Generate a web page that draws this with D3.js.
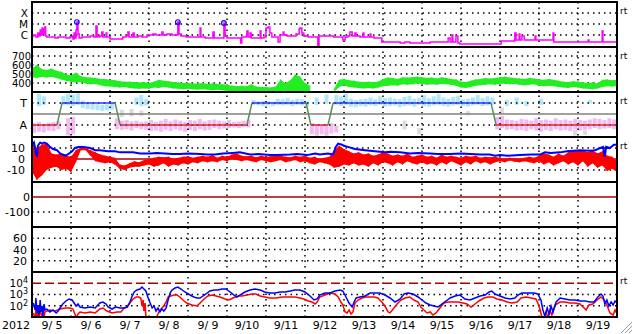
<!DOCTYPE html>
<html>
<head>
<meta charset="utf-8">
<script src="https://cdn.jsdelivr.net/npm/d3@7"></script>
<style>
body { margin:0; background:#fff; }
svg { display:block; font-family:"DejaVu Sans", sans-serif; }
</style>
</head>
<body>
<div id="chart"></div>
<script>
// space weather summary, 2012 9/5 - 9/19 (times are days after 9/5 00:00)

var dayLabels = ['9/ 5','9/ 6','9/ 7','9/ 8','9/ 9','9/10','9/11','9/12','9/13','9/14','9/15','9/16','9/17','9/18','9/19'];

// x-ray flux W/m2
var xray = [[0,8.1e-7],[.05,1e-6],[.10,6.6e-7],[.15,1.5e-6],[.18,8.1e-7],[.21,2.8e-6],[.23,1e-6],[.26,4.3e-6],[.28,1.2e-6],[.31,3.5e-6],[.33,5.3e-6],[.35,8.1e-7],[.38,6.6e-7],[.46,6.6e-7],[.59,5.3e-7],[.67,6.6e-7],[.77,6.6e-7],[.87,5.3e-7],[.97,6.6e-7],[1.03,8.1e-7],[1.05,4.3e-7],[1.08,1.5e-6],[1.10,5.3e-7],[1.13,2.8e-6],[1.15,1.5e-5],[1.18,1.2e-6],[1.21,5.3e-7],[1.28,6.6e-7],[1.38,6.6e-7],[1.49,8.1e-7],[1.59,6.6e-7],[1.64,6.6e-6],[1.67,6.6e-7],[1.74,8.1e-7],[1.79,1.9e-6],[1.82,6.6e-7],[1.90,1.5e-6],[1.92,6.6e-7],[2.00,4.3e-7],[2.13,4.3e-7],[2.26,4.3e-7],[2.33,6.6e-7],[2.41,8.1e-7],[2.46,1.9e-6],[2.49,6.6e-7],[2.59,1.5e-6],[2.62,6.6e-7],[2.72,8.1e-7],[2.82,6.6e-7],[2.95,1e-6],[3.03,1e-6],[3.10,1.2e-6],[3.18,1e-6],[3.28,1e-6],[3.33,1.9e-6],[3.36,1e-6],[3.46,1.2e-6],[3.59,1e-6],[3.69,1e-6],[3.74,1.5e-5],[3.77,1.2e-6],[3.82,8.1e-7],[3.95,6.6e-7],[4.10,6.6e-7],[4.26,6.6e-7],[4.31,4.3e-6],[4.33,6.6e-7],[4.44,5.3e-7],[4.56,5.3e-7],[4.64,1.9e-6],[4.67,5.3e-7],[4.82,5.3e-7],[4.90,5.3e-7],[4.92,1.25e-5],[4.95,8.1e-7],[5.00,5.3e-7],[5.15,5.3e-7],[5.33,5.3e-7],[5.35,1.9e-7],[5.38,6.6e-7],[5.49,8.1e-7],[5.51,2.3e-6],[5.54,6.6e-7],[5.59,1.5e-6],[5.62,5.3e-7],[5.74,5.3e-7],[5.85,2.3e-6],[5.87,5.3e-7],[5.95,6.6e-7],[6.00,4.3e-6],[6.05,5.3e-6],[6.10,1.5e-6],[6.15,6.6e-7],[6.26,6.6e-7],[6.31,2.3e-7],[6.36,1e-6],[6.44,1.9e-6],[6.46,1e-6],[6.54,8.1e-7],[6.67,8.1e-7],[6.77,1.2e-6],[6.85,3.5e-6],[6.87,4.3e-6],[6.92,1.5e-6],[6.97,8.1e-7],[7.08,6.6e-7],[7.21,6.6e-7],[7.33,8.5e-8],[7.36,8.1e-7],[7.49,8.1e-7],[7.64,8.1e-7],[7.74,6.6e-7],[7.90,6.6e-7],[7.97,3.5e-7],[8.03,6.6e-7],[8.10,8.1e-7],[8.15,1.9e-6],[8.21,8.1e-7],[8.28,1.5e-6],[8.31,8.1e-7],[8.41,6.6e-7],[8.49,1.5e-6],[8.51,6.6e-7],[8.62,6.6e-7],[8.67,1.2e-6],[8.69,6.6e-7],[8.77,5.3e-7],[8.92,5.3e-7],[8.97,2.3e-7],[9.18,2.3e-7],[9.44,1.9e-7],[9.56,2.3e-7],[9.69,1.9e-7],[9.95,1.9e-7],[10.21,2.3e-7],[10.46,2.3e-7],[10.59,2.3e-7],[10.67,5.3e-7],[10.72,2.3e-7],[10.77,1e-6],[10.79,2.3e-7],[10.87,8.1e-7],[10.92,1.9e-7],[10.97,1.5e-7],[11.23,1.5e-7],[11.49,1.5e-7],[11.74,1.5e-7],[12.00,1.5e-7],[12.03,2.8e-7],[12.13,2.8e-7],[12.31,2.8e-7],[12.38,1.5e-6],[12.41,3.5e-7],[12.49,1.2e-6],[12.51,3.5e-7],[12.56,8.1e-7],[12.62,3.5e-7],[12.77,3.5e-7],[12.90,8.1e-7],[12.92,3.5e-7],[13.15,3.5e-7],[13.33,3.5e-7],[13.36,1.5e-6],[13.38,2.3e-7],[13.67,2.3e-7],[13.92,2.3e-7],[14.26,3.5e-7],[14.28,2.3e-7],[14.44,2.3e-7],[14.56,2.3e-7],[14.62,2.3e-6],[14.64,2.3e-7],[14.82,2.3e-7],[15.00,2.3e-7]];
var flarePeaks = [[1.15,1.5e-5],[3.74,1.5e-5],[4.92,1.25e-5]];

// solar wind speed km/s, [t, min, max]
var speedBins = [[0,465,560],[0.125,455,600],[0.25,470,555],[0.375,460,545],[0.5,470,560],[0.625,455,535],[0.75,440,525],[0.875,425,495],
[1,415,485],[1.125,405,515],[1.25,410,475],[1.375,395,465],[1.5,385,460],[1.625,390,455],[1.75,375,445],[1.875,365,445],
[2,360,435],[2.125,355,430],[2.25,350,420],[2.375,355,415],[2.5,345,415],[2.625,340,410],[2.75,335,405],[2.875,340,410],
[3,335,400],[3.125,350,415],[3.25,345,435],[3.375,355,425],[3.5,350,420],[3.625,340,410],[3.75,335,405],[3.875,330,400],
[4,335,400],[4.125,330,395],[4.25,325,395],[4.375,330,400],[4.5,325,390],[4.625,320,395],[4.75,325,390],[4.875,320,385],
[5,312,380],[5.125,308,370],[5.25,305,365],[5.375,308,370],[5.5,305,365],[5.625,308,385],[5.75,305,360],[5.875,302,355],
[6,300,355],[6.125,300,350],[6.25,300,360],[6.375,300,440],[6.5,300,395],[6.625,300,430],[6.75,300,495],[6.875,300,470],
[7,300,400],[7.125,300,370],[7.25,null,null],[7.5,null,null],[7.75,300,340],[7.875,355,435],
[8,375,445],[8.125,355,430],[8.25,350,425],[8.375,345,415],[8.5,340,410],[8.625,345,415],[8.75,340,410],[8.875,350,415],
[9,365,445],[9.125,370,460],[9.25,375,455],[9.375,370,445],[9.5,385,465],[9.625,380,460],[9.75,385,465],[9.875,395,470],
[10,390,465],[10.125,380,455],[10.25,385,460],[10.375,380,450],[10.5,390,465],[10.625,385,455],[10.75,380,445],[10.875,370,440],
[11,350,415],[11.125,345,410],[11.25,355,425],[11.375,370,440],[11.5,375,445],[11.625,380,455],[11.75,385,450],[11.875,380,455],
[12,390,465],[12.125,395,470],[12.25,385,460],[12.375,390,455],[12.5,380,450],[12.625,375,445],[12.75,380,455],[12.875,385,450],
[13,370,440],[13.125,365,435],[13.25,370,445],[13.375,365,435],[13.5,355,425],[13.625,350,415],[13.75,345,410],[13.875,355,420],
[14,350,415],[14.125,340,405],[14.25,335,400],[14.375,330,405],[14.5,340,395],[14.625,355,435],[14.75,365,440],[14.875,360,430],[15,365,435]];

// IMF sector: angle range per bin (deg)
var towardBins = [[0.125,290,390],[0.25,300,370],
[0.75,300,370],[0.875,295,390],[1.0,290,385],[1.125,300,395],[1.25,275,335],
[1.375,265,315],[1.5,260,310],[1.625,255,305],[1.75,250,300],[1.875,255,305],[2.0,260,315],
[2.625,300,360],[2.75,290,380],[2.875,295,350],
[5.625,300,340],[5.75,295,330],[5.875,290,335],[6.0,295,330],[6.125,290,325],[6.25,300,350],[6.375,295,345],[6.5,300,356],[6.625,290,340],[6.75,300,350],[6.875,295,345],[7.0,290,330],
[7.25,300,360],[7.5,310,385],
[7.75,300,380],[7.875,290,370],[8.0,300,390],[8.125,285,350],[8.25,280,340],[8.375,290,345],[8.5,285,350],[8.625,295,360],[8.75,290,345],[8.875,300,370],[9.0,285,355],[9.125,290,360],[9.25,295,350],[9.375,280,345],[9.5,290,365],[9.625,295,375],[9.75,285,350],[9.875,300,360],[10.0,290,380],[10.125,285,355],[10.25,295,370],[10.375,300,390],[10.5,290,360],[10.625,285,350],[10.75,295,365],[10.875,300,375],[11.0,290,345],[11.125,285,350],[11.25,295,360],[11.375,300,380],[11.5,290,355],[11.625,295,370],[11.75,300,360],
[12.125,290,340],[12.375,300,360],[12.625,290,330],[13.0,300,350],[14.25,310,340]];
var awayBins = [[0,70,150],[0.125,80,160],[0.25,75,140],[0.375,90,155],[0.5,85,160],[0.625,100,165],
[0.875,50,190],[1.0,60,200],
[2.125,100,190],[2.25,95,170],[2.375,100,175],[2.5,90,165],[2.625,110,170],[2.75,100,160],[2.875,95,165],
[3.0,85,175],[3.125,90,160],[3.25,80,170],[3.375,95,185],[3.5,85,165],[3.625,100,180],[3.75,90,170],[3.875,80,160],[4.0,95,175],[4.125,85,170],[4.25,100,185],[4.375,90,165],[4.5,95,175],[4.625,110,180],[4.75,100,170],[4.875,105,165],[5.0,110,175],[5.125,115,160],[5.25,110,165],[5.375,120,170],[5.5,115,180],
[7.125,60,150],[7.25,50,140],[7.375,60,130],[7.5,55,145],[7.625,65,150],[7.75,75,130],
[11.875,100,200],[12.0,110,210],[12.125,95,180],[12.25,100,175],[12.375,90,170],[12.5,95,185],[12.625,85,180],[12.75,100,170],[12.875,90,190],[13.0,80,175],[13.125,95,180],[13.25,85,170],[13.375,100,190],[13.5,90,175],[13.625,95,180],[13.75,85,170],[13.875,100,185],[14.0,90,175],[14.125,95,170],[14.25,100,180],[14.375,110,190],[14.5,100,185],[14.625,105,175],[14.75,110,190],[14.875,100,180],[15.0,115,190]];
var mixedBins = [[2.25,200,260],[2.5,205,265],[2.75,210,255],
[7.25,50,85],[7.5,45,80],
[9.5,100,170],[9.875,60,110],
[11.125,215,250],
[12.0,230,280],
[13.875,50,95],[14.125,55,90]];
// sector polarity changes
var sectorPts = [[0,'A'],[0.64,'A'],[0.77,'T'],[2.13,'T'],[2.26,'A'],[5.51,'A'],[5.64,'T'],[7.03,'T'],[7.15,'A'],[7.59,'A'],[7.72,'T'],[11.77,'T'],[11.9,'A'],[15,'A']];
var sectorAngle = {'T':315, 'A':135};

// IMF Bt (nT)
var btData = [[0,13],[.05,15],[.08,10],[.10,5],[.13,2],[.15,12],[.21,15],[.26,14],[.31,15],[.38,14],[.46,11],[.54,9],[.64,8],[.72,5],[.79,4],[.87,3],[.95,5],[1.03,7],[1.10,10],[1.18,11],[1.33,11],[1.49,10],[1.62,8],[1.74,8],[1.95,7],[2.13,7],[2.26,6],[2.59,6],[2.77,5],[3.03,5],[3.2,5.5],[3.41,5],[3.6,4.5],[3.79,4.5],[4.0,5],[4.31,4.5],[4.5,4],[4.69,4],[4.9,5],[5.15,5.5],[5.33,6],[5.59,4],[5.8,4.5],[6.10,3.5],[6.3,3.5],[6.62,4],[6.8,4.5],[7.05,3.5],[7.26,5],[7.38,4],[7.59,5],[7.72,4],[7.79,11],[7.85,14],[7.95,13],[8.0,12],[8.10,11],[8.28,9],[8.54,8],[8.79,7],[9.05,6],[9.2,6.5],[9.44,6],[9.69,5],[9.9,5.5],[10.21,5],[10.4,4.5],[10.72,4.5],[11.0,5],[11.23,4.5],[11.5,4],[11.74,4],[11.87,3],[12.00,3.5],[12.2,3],[12.51,3.5],[12.8,4],[13.03,4],[13.15,6],[13.3,5.5],[13.54,6],[13.72,7],[13.9,7.5],[14.05,8],[14.3,7.5],[14.44,8],[14.64,11],[14.69,2],[14.72,11],[14.82,10],[14.92,13],[15,13]];
// IMF Bz (nT), [t, min, max]
var bzBins = [[0,-12,14],[0.125,-19,10],[0.25,-15,13],[0.375,-10,14],[0.5,-8,5],[0.625,-7,4],[0.75,-10,5],[0.875,-9,3],
[1.0,-12,2],[1.125,-3,8],[1.25,8,10.5],[1.375,8,10],[1.5,3,8],[1.625,-2,6],[1.75,-3,4],[1.875,-4,3],
[2.0,-3,2],[2.125,-5,1],[2.25,-9,-5],[2.375,-10,-6],[2.5,-8,-4],[2.625,-7,-2],[2.75,-7,-3],[2.875,-6,-1],
[3.0,-5,0],[3.125,-7,1],[3.25,-6,2],[3.375,-4,1.5],[3.5,-7,2],[3.625,-5,0],[3.75,-6,1],[3.875,-4,2],
[4.0,-5,2.5],[4.125,-3,1],[4.25,-4,2],[4.375,-2,3],[4.5,-3,2],[4.625,-2,3.5],[4.75,-3,1],[4.875,-1,3],
[5.0,-2,2],[5.125,0,4],[5.25,-1,5],[5.375,-2,3],[5.5,-1,2.5],[5.625,-2,3],[5.75,-3,1.5],[5.875,-1,3],
[6.0,-2,2],[6.125,-3,2.5],[6.25,-2,3],[6.375,-1,3],[6.5,-3,2],[6.625,-2,1.5],[6.75,-1,3],[6.875,-3,2],
[7.0,-2,3],[7.125,-4,1],[7.25,-5,2],[7.375,-3,0],[7.5,-4,1],[7.625,-5,2],[7.75,-8,8],[7.875,-7,12],
[8.0,-5,9],[8.125,-6,7],[8.25,-4,5],[8.375,-6,6],[8.5,-5,4],[8.625,-7,5],[8.75,-4,3],[8.875,-6,4],
[9.0,-3,6],[9.125,-4,5],[9.25,-6,3],[9.375,-3,4],[9.5,-5,3],[9.625,-2,5],[9.75,-4,2],[9.875,-5,3],
[10.0,-3,4],[10.125,-5,2],[10.25,-4,3],[10.375,-6,1],[10.5,-3,4],[10.625,-5,2],[10.75,-2,3],[10.875,-4,2],
[11.0,-6,1],[11.125,-3,3],[11.25,-5,2],[11.375,-2,3],[11.5,-4,1],[11.625,-3,2],[11.75,-5,1.5],[11.875,-3,2],
[12.0,-2,1],[12.125,-3,0],[12.25,-1.5,1],[12.375,-2.5,0.5],[12.5,-3,0],[12.625,-2,1],[12.75,-3,2],[12.875,-4,1],
[13.0,-2,3],[13.125,-5,5],[13.25,-3,4],[13.375,-6,2],[13.5,-4,5],[13.625,-2,3],[13.75,-5,6],[13.875,-3,8],
[14.0,-6,7],[14.125,-2,8],[14.25,-7,6],[14.375,-4,8],[14.5,-8,5],[14.625,-6,7],[14.75,-11,3],[14.875,-9,2],[15.0,-12,-2]];

// electron flux
var elecLow = [[.03,175],[.08,42],[.10,490],[.13,23],[.15,117],[.18,15],[.21,325],[.23,28],[.26,95],[.28,12],[.31,143],[.33,42],[.38,51],[.46,28],[.54,42],[.62,23],[.67,34],[.72,63],[.79,143],[.87,265],[.95,400],[1.03,325],[1.08,175],[1.13,95],[1.18,143],[1.23,77],[1.36,63],[1.49,77],[1.62,63],[1.69,117],[1.74,175],[1.82,215],[1.90,143],[1.95,77],[2.05,51],[2.15,77],[2.26,63],[2.36,63],[2.44,77],[2.51,215],[2.56,600],[2.62,1670],[2.69,2510],[2.77,3080],[2.82,4640],[2.87,3080],[2.92,2050],[2.97,600],[3.03,175],[3.08,63],[3.13,95],[3.18,34],[3.23,63],[3.28,28],[3.33,51],[3.38,34],[3.44,63],[3.49,325],[3.54,1360],[3.59,2510],[3.67,3790],[3.74,4640],[3.82,3080],[3.92,1670],[4.05,900],[4.15,600],[4.23,490],[4.31,490],[4.38,735],[4.46,1110],[4.56,2050],[4.67,2510],[4.77,2510],[4.87,3080],[4.97,3080],[5.08,1670],[5.18,900],[5.26,600],[5.33,900],[5.46,1670],[5.59,2510],[5.72,3080],[5.85,2510],[5.97,1670],[6.10,1360],[6.23,1360],[6.36,1670],[6.49,1670],[6.62,2050],[6.74,2510],[6.87,2510],[7.00,1670],[7.13,735],[7.23,325],[7.31,400],[7.38,900],[7.51,1360],[7.64,1360],[7.77,2050],[7.90,2510],[7.97,2050],[8.05,600],[8.13,175],[8.21,77],[8.26,215],[8.31,490],[8.41,600],[8.54,735],[8.67,1360],[8.79,1360],[8.92,1360],[9.05,900],[9.18,490],[9.31,215],[9.44,400],[9.54,1110],[9.64,1360],[9.77,1110],[9.90,600],[10.00,325],[10.10,175],[10.21,117],[10.31,95],[10.41,77],[10.51,143],[10.62,265],[10.72,490],[10.85,735],[10.97,900],[11.10,400],[11.23,325],[11.36,490],[11.49,735],[11.62,900],[11.72,1670],[11.79,2050],[11.87,1110],[12.00,735],[12.13,490],[12.26,400],[12.38,490],[12.46,900],[12.56,1360],[12.72,1360],[12.87,1360],[12.97,1110],[13.05,325],[13.10,42],[13.15,12],[13.21,63],[13.26,15],[13.31,95],[13.36,28],[13.44,215],[13.54,490],[13.67,400],[13.79,325],[13.92,325],[14.05,265],[14.18,265],[14.31,215],[14.41,215],[14.51,600],[14.59,1110],[14.64,735],[14.69,143],[14.74,325],[14.79,95],[14.85,215],[14.90,117],[14.95,265],[15.00,175]];
var elecHigh = [[.03,23],[.08,8],[.10,51],[.13,10],[.15,28],[.18,8],[.21,34],[.26,12],[.31,8],[.33,28],[.38,34],[.46,42],[.59,34],[.72,51],[.85,63],[.97,63],[1.05,51],[1.10,18.5],[1.13,8],[1.18,18.5],[1.23,28],[1.36,23],[1.49,28],[1.62,23],[1.74,51],[1.82,63],[1.92,34],[2.05,23],[2.18,28],[2.28,28],[2.36,63],[2.44,77],[2.51,175],[2.59,400],[2.67,600],[2.74,600],[2.79,490],[2.82,95],[2.85,325],[2.87,34],[2.90,175],[2.92,12],[2.97,8],[3.08,8],[3.18,8],[3.23,18.5],[3.28,42],[3.36,77],[3.44,215],[3.49,600],[3.56,735],[3.64,900],[3.72,900],[3.79,600],[3.90,265],[3.97,175],[4.10,117],[4.23,95],[4.31,175],[4.41,400],[4.51,735],[4.62,900],[4.72,735],[4.82,600],[4.95,400],[5.05,325],[5.15,490],[5.28,735],[5.38,735],[5.51,900],[5.64,1110],[5.74,1110],[5.85,735],[5.97,600],[6.10,490],[6.26,490],[6.41,600],[6.56,600],[6.74,600],[6.87,490],[6.97,400],[7.08,265],[7.18,215],[7.26,143],[7.31,215],[7.38,600],[7.51,900],[7.64,1360],[7.77,1110],[7.85,600],[7.92,215],[7.97,117],[8.03,28],[8.08,23],[8.13,42],[8.18,18.5],[8.23,28],[8.28,175],[8.36,325],[8.46,490],[8.56,600],[8.67,600],[8.77,600],[8.87,490],[8.97,215],[9.05,95],[9.13,28],[9.18,23],[9.26,51],[9.36,143],[9.46,325],[9.56,490],[9.69,600],[9.79,325],[9.90,215],[9.97,77],[10.05,42],[10.13,23],[10.21,28],[10.28,15],[10.36,23],[10.46,63],[10.56,175],[10.67,215],[10.79,215],[10.92,215],[11.05,175],[11.15,143],[11.26,77],[11.36,143],[11.46,265],[11.59,490],[11.69,600],[11.82,600],[11.92,400],[12.05,325],[12.18,215],[12.31,175],[12.44,215],[12.54,490],[12.67,600],[12.79,490],[12.92,400],[12.97,175],[13.03,42],[13.08,8],[13.13,8],[13.18,28],[13.23,8],[13.28,42],[13.33,15],[13.41,117],[13.54,215],[13.67,215],[13.79,175],[13.92,175],[14.05,143],[14.13,77],[14.21,42],[14.28,117],[14.38,143],[14.49,325],[14.59,600],[14.67,325],[14.74,117],[14.82,23],[14.90,15],[14.95,42],[15.00,18.5]];

// tick labels
var xrayTicks = [[1e-4,'X'],[1e-5,'M'],[1e-6,'C']];
var speedTicks = [700,600,500,400];
var sectorTicks = [[315,'T'],[135,'A']];
var bTicks = [10,0,-10];
var dstTicks = [0,-100];
var kpTicks = [60,40,20];
var elecTicks = [1e4,1e3,1e2];

var W = 633, H = 334;
var left = 32, right = 617;
var panelTop = [2, 47, 92, 137, 182, 227, 272];
var panelH = 45;
var bottom = panelTop[6] + panelH;
var start = new Date(2012, 8, 5);
function day(t){ return new Date(start.getTime() + t*864e5) }

var svg = d3.select('#chart').append('svg').attr('width', W).attr('height', H);

var x = d3.scaleTime().domain([day(0), day(15)]).range([left, right]);
var yX = d3.scaleLog().domain([8.1e-8, 1e-3]).range([47, 2]);
var ySpd = d3.scaleLinear().domain([300, 800]).range([92, 47]);
var yPhi = d3.scaleLinear().domain([37, 405]).range([137, 92]);
var yB = d3.scaleLinear().domain([-21, 20]).range([182, 137]);
var yDst = d3.scaleLinear().domain([-200, 100]).range([227, 182]);
var yKp = d3.scaleLinear().domain([0, 80]).range([272, 227]);
var yE = d3.scaleLog().domain([10, 1e5]).range([317, 272]);

var defs = svg.append('defs');
panelTop.forEach(function(t, i){
    defs.append('clipPath').attr('id', 'clip' + i)
        .append('rect').attr('x', left).attr('y', t).attr('width', right - left).attr('height', panelH);
});
function layer(i){ return svg.append('g').attr('clip-path', 'url(#clip' + i + ')') }

var dotted = '1.5,4';

// IMF angle clouds (under the grid)
var binW = x(day(0.125)) - x(day(0));
var gPhi = layer(2);
function cloud(data, color, op){
    gPhi.selectAll(null).data(data).enter().append('rect')
        .attr('x', d => x(day(d[0])))
        .attr('width', binW - 0.8)
        .attr('y', d => yPhi(d[2]))
        .attr('height', d => yPhi(d[1]) - yPhi(d[2]))
        .attr('fill', color)
        .attr('opacity', op);
}
cloud(mixedBins, '#d2d2d2', 0.8);
cloud(awayBins, '#f4b4f0', 0.95);
cloud(towardBins, '#ace6f7', 0.95);

// vertical day grid
svg.append('g').selectAll('line').data(d3.range(1, 15)).enter().append('line')
    .attr('x1', d => x(day(d))).attr('x2', d => x(day(d)))
    .attr('y1', panelTop[0]).attr('y2', bottom)
    .attr('stroke', '#000').attr('stroke-width', 1.5).attr('stroke-dasharray', dotted);

function hgrid(yv, color, dash, width){
    svg.append('line').attr('x1', left).attr('x2', right).attr('y1', yv).attr('y2', yv)
        .attr('stroke', color || '#000').attr('stroke-width', width || 1.5)
        .attr('stroke-dasharray', dash === undefined ? dotted : dash);
}
xrayTicks.forEach(d => hgrid(yX(d[0])));
speedTicks.forEach(d => hgrid(ySpd(d)));
sectorTicks.forEach(d => hgrid(yPhi(d[0])));
hgrid(yPhi(225), '#808080', null, 1.5);
bTicks.filter(d => d != 0).forEach(d => hgrid(yB(d)));
hgrid(yB(0), '#aa0000', null, 1.5);
hgrid(yDst(-100));
hgrid(yDst(0), '#aa0000', null, 1.5);
kpTicks.forEach(d => hgrid(yKp(d)));
hgrid(yE(1e3)); hgrid(yE(1e2));
hgrid(yE(1e4), '#aa0000', '9,4', 1.5);

// x-ray
var gX = layer(0);
gX.append('path').datum(xray)
    .attr('d', d3.line().curve(d3.curveStepAfter).x(d => x(day(d[0]))).y(d => yX(d[1])))
    .attr('fill', 'none').attr('stroke', '#ff00ff').attr('stroke-width', 1.5);
svg.selectAll(null).data(flarePeaks).enter().append('circle')
    .attr('cx', d => x(day(d[0]))).attr('cy', d => yX(d[1])).attr('r', 2.3)
    .attr('fill', 'none').attr('stroke', '#0000ff').attr('stroke-width', 1.2);

// min/max band: filled area plus a thin min-max zigzag for the spiky edge
function band(g, data, y, color){
    var ok = d => d[1] != null;
    g.append('path').datum(data)
        .attr('d', d3.area().defined(ok).x(d => x(day(d[0]))).y0(d => y(d[1])).y1(d => y(d[2])))
        .attr('fill', color);
    var zig = [];
    data.forEach(function(d){
        if (ok(d)) { zig.push([d[0], d[1]]); zig.push([d[0], d[2]]); }
        else zig.push(null);
    });
    g.append('path').datum(zig)
        .attr('d', d3.line().defined(d => d != null).x(d => x(day(d[0]))).y(d => y(d[1])))
        .attr('fill', 'none').attr('stroke', color).attr('stroke-width', 0.8);
}

// solar wind speed
band(layer(1), speedBins, ySpd, '#22ee22');

// sector lines
var gS = layer(2);
for (var i = 0; i < sectorPts.length - 1; i++){
    var a = sectorPts[i], b = sectorPts[i+1];
    var col = a[1] != b[1] ? '#5b8f5b' : (a[1] == 'T' ? '#3333ff' : '#cc3333');
    gS.append('line')
        .attr('x1', x(day(a[0]))).attr('y1', yPhi(sectorAngle[a[1]]))
        .attr('x2', x(day(b[0]))).attr('y2', yPhi(sectorAngle[b[1]]))
        .attr('stroke', col).attr('stroke-width', 1.5);
}

// IMF
var gB = layer(3);
band(gB, bzBins, yB, '#ff0000');
gB.append('path').datum(btData)
    .attr('d', d3.line().x(d => x(day(d[0]))).y(d => yB(d[1])))
    .attr('fill', 'none').attr('stroke', '#0000ff').attr('stroke-width', 2);

// electrons
var gE = layer(6);
var eLine = d3.line().x(d => x(day(d[0]))).y(d => yE(d[1]));
gE.append('path').datum(elecHigh).attr('d', eLine)
    .attr('fill', 'none').attr('stroke', '#ff0000').attr('stroke-width', 1.5);
gE.append('path').datum(elecLow).attr('d', eLine)
    .attr('fill', 'none').attr('stroke', '#0000ff').attr('stroke-width', 1.5);

// panel frames
panelTop.concat([bottom]).forEach(function(t){
    svg.append('line').attr('x1', left - 1).attr('x2', right + 1).attr('y1', t).attr('y2', t)
        .attr('stroke', '#000').attr('stroke-width', 2);
});
[left, right].forEach(function(xv){
    svg.append('line').attr('x1', xv).attr('x2', xv).attr('y1', panelTop[0]).attr('y2', bottom)
        .attr('stroke', '#000').attr('stroke-width', 2);
});

// axes labels
function leftAxis(scale, vals, fmt, xEnd, fs){
    var g = svg.append('g').attr('transform', 'translate(' + xEnd + ',0)')
        .call(d3.axisLeft(scale).tickValues(vals).tickSize(0).tickPadding(0).tickFormat(fmt));
    g.select('.domain').remove();
    g.selectAll('text').attr('font-size', fs || 11).attr('font-family', '"DejaVu Sans", sans-serif').attr('fill', '#000');
    return g;
}
var xrayLab = new Map(xrayTicks);
leftAxis(yX, xrayTicks.map(d => d[0]), d => xrayLab.get(d), 28, 10.5);
leftAxis(ySpd, speedTicks, d => d, 31, 10);
var secLab = new Map(sectorTicks);
leftAxis(yPhi, sectorTicks.map(d => d[0]), d => secLab.get(d), 27);
leftAxis(yB, bTicks, d => d, 25);
leftAxis(yDst, dstTicks, d => d, 30);
leftAxis(yKp, kpTicks, d => d, 27);
var ge = leftAxis(yE, elecTicks, d => '10', 28, 10.5);
ge.selectAll('text').each(function(d){
    var t = d3.select(this);
    t.append('tspan').attr('dy', -4).attr('font-size', 8).text(Math.round(Math.log10(d)));
});

// bottom date labels at noon
var gx = svg.append('g').attr('transform', 'translate(0,' + (bottom + 4) + ')')
    .call(d3.axisBottom(x).tickValues(dayLabels.map((d, i) => day(i + 0.5))).tickSize(0).tickPadding(0)
        .tickFormat((d, i) => dayLabels[i]));
gx.select('.domain').remove();
gx.selectAll('text').attr('font-size', 11).attr('font-family', '"DejaVu Sans", sans-serif').attr('fill', '#000');

svg.append('text').attr('x', 2).attr('y', 329).attr('font-size', 11).text('2012');

// real-time markers
[0, 1, 2, 3, 6].forEach(function(i){
    svg.append('text').attr('x', 620).attr('y', panelTop[i] + 12)
        .attr('font-size', 9).text('rt');
});

// window resize grip
[[621, 333, 632, 322], [625, 333, 632, 326], [629, 333, 632, 330]].forEach(function(s){
    svg.append('line').attr('x1', s[0]).attr('y1', s[1]).attr('x2', s[2]).attr('y2', s[3])
        .attr('stroke', '#999').attr('stroke-width', 1);
});
</script>
</body>
</html>
